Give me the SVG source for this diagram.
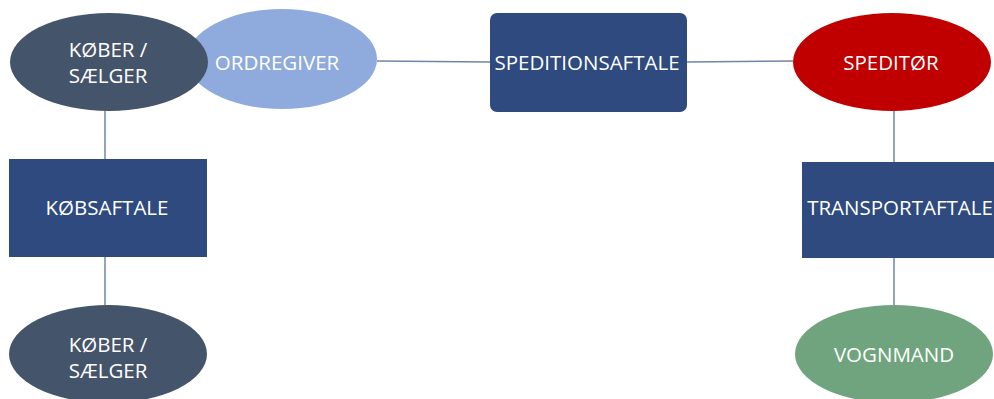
<svg xmlns="http://www.w3.org/2000/svg" width="994" height="399" viewBox="0 0 994 399">
  <style>
    .lbl { font-family: "Open Sans", "Liberation Sans", sans-serif; font-size: 20.5px; fill: #ffffff; text-anchor: middle; }
    .link { stroke: #6F86A8; stroke-width: 1.5; fill: none; }
    .party { fill: #44546A; }
    .deal { fill: #2E4A7E; }
  </style>
  <rect width="994" height="399" fill="#ffffff"/>

  <!-- connectors -->
  <g id="connectors">
    <line class="link" x1="377" y1="61" x2="490" y2="62"/>
    <line class="link" x1="687" y1="62" x2="793" y2="61"/>
    <line class="link" x1="105" y1="111" x2="105" y2="159"/>
    <line class="link" x1="105" y1="257" x2="105" y2="305"/>
    <line class="link" x1="894" y1="111" x2="894" y2="162"/>
    <line class="link" x1="894" y1="258" x2="894" y2="305"/>
  </g>

  <g id="ordregiver">
    <ellipse cx="282" cy="59" rx="95" ry="50" fill="#8FAADC"/>
    <text class="lbl" x="277" y="70">ORDREGIVER</text>
  </g>

  <g id="koeber-top">
    <ellipse class="party" cx="109" cy="62" rx="99" ry="49"/>
    <text class="lbl" x="108" y="57">KØBER /</text>
    <text class="lbl" x="108" y="83">SÆLGER</text>
  </g>

  <g id="speditionsaftale">
    <rect class="deal" x="490" y="13" width="197" height="99" rx="7"/>
    <text class="lbl" x="587" y="70">SPEDITIONSAFTALE</text>
  </g>

  <g id="speditoer">
    <ellipse cx="892" cy="62" rx="99" ry="49" fill="#C00000"/>
    <text class="lbl" x="891" y="70">SPEDITØR</text>
  </g>

  <g id="koebsaftale">
    <rect class="deal" x="9" y="159" width="198" height="98"/>
    <text class="lbl" x="107" y="215">KØBSAFTALE</text>
  </g>

  <g id="transportaftale">
    <rect class="deal" x="802" y="162" width="192" height="96"/>
    <text class="lbl" x="900" y="215">TRANSPORTAFTALE</text>
  </g>

  <g id="koeber-bottom">
    <ellipse class="party" cx="108" cy="354" rx="99" ry="49"/>
    <text class="lbl" x="108" y="352">KØBER /</text>
    <text class="lbl" x="108" y="378">SÆLGER</text>
  </g>

  <g id="vognmand">
    <ellipse cx="894" cy="354" rx="99" ry="49" fill="#70A47E"/>
    <text class="lbl" x="894" y="362">VOGNMAND</text>
  </g>
</svg>
